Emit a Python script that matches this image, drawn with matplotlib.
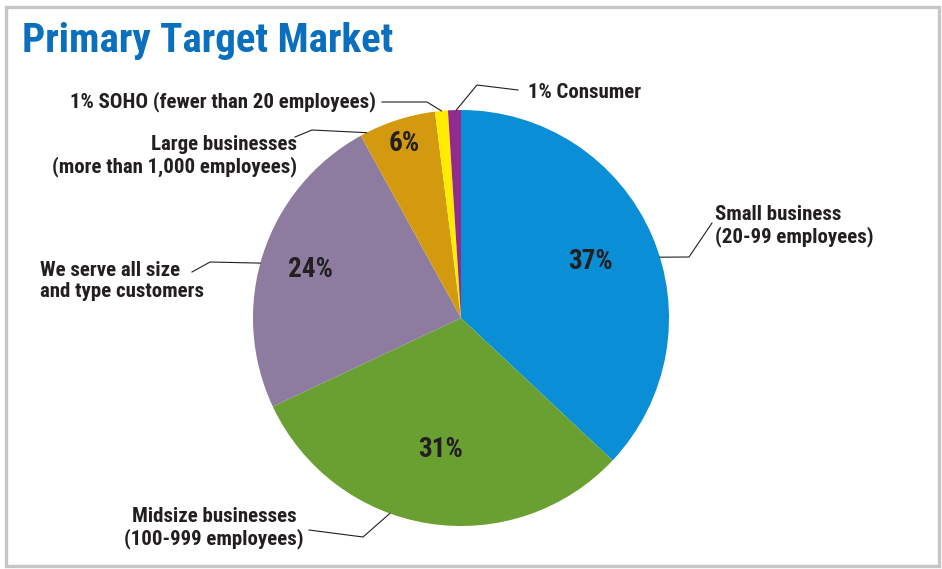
import numpy as np
import matplotlib
matplotlib.use('Agg')
import matplotlib.pyplot as plt
from matplotlib import font_manager
from matplotlib.patches import Rectangle

# survey shares, drawn clockwise from 12 o'clock
segments = ['Small business', 'Midsize businesses', 'All size and type', 'Large businesses', 'SOHO', 'Consumer']
shares = [37, 31, 24, 6, 1, 1]
colors = ['#0A8FD6', '#6A9F31', '#8E7CA0', '#D39A0F', '#FFEC00', '#922B8C']
callout_text = [
    'Small business\n(20-99 employees)',
    'Midsize businesses\n(100-999 employees)',
    'We serve all size\nand type customers',
    'Large businesses\n(more than 1,000 employees)',
    '{}% SOHO (fewer than 20 employees)',
    '{}% Consumer',
]
show_inside = [True, True, True, True, False, False]

W, H = 942, 569
TEXT = '#231F20'


def pick_font():
    for name in ['Roboto Condensed', 'Liberation Sans Narrow', 'Arial Narrow']:
        try:
            font_manager.findfont(font_manager.FontProperties(family=name), fallback_to_default=False)
            return name
        except Exception:
            pass
    return 'DejaVu Sans'


FONT = pick_font()
plt.rcParams['font.family'] = [FONT, 'DejaVu Sans']


def img(x, y):
    # canvas pixels (origin top-left) -> data coords
    return x, H - y


fig = plt.figure(figsize=(W / 100, H / 100), dpi=100)
ax = fig.add_axes([0, 0, 1, 1])

cx, cy = img(461, 318)
R = 208
wedges, _ = ax.pie(shares, colors=colors, startangle=90, counterclock=False,
                   center=(cx, cy), radius=R, frame=True,
                   wedgeprops=dict(linewidth=0))

ax.set_xlim(0, W)
ax.set_ylim(0, H)
ax.set_aspect('equal')
ax.axis('off')

# outer frame
ax.add_patch(Rectangle((6, 3), W - 9, H - 10, fill=False, ec='#C6C6C8', lw=2.4))

ax.text(22, H - 52, 'Primary Target Market', color='#0A6FBD', fontsize=29.5,
        fontweight='bold', va='baseline', ha='left')

# percentage inside the larger wedges
inside_r = [0.68, 0.64, 0.76, 0.88, 0, 0]
for w, v, show, rf in zip(wedges, shares, show_inside, inside_r):
    if not show:
        continue
    mid = np.deg2rad((w.theta1 + w.theta2) / 2)
    ax.text(cx + rf * R * np.cos(mid), cy + rf * R * np.sin(mid), f'{v}%',
            fontsize=19.5, fontweight='bold', color=TEXT, ha='center', va='center')

# leader lines: anchor angle on the rim, elbow, end (canvas pixels), then text spot
leaders = [
    (17, (689, 257), (712, 223), (715, 226), 'left'),
    (250, (363, 537), (309, 530), (214, 528), 'center'),
    (164.7, (210, 262), (192, 272), (40, 281), 'left'),
    (117, (312, 130), (295, 137), (297, 156), 'right'),
    (95.4, (427, 102), (382, 102), (376, 102), 'right'),
    (91.3, (477, 85), (518, 90), (528, 92), 'left'),
]
for (ang, elbow, end, spot, align), txt, v in zip(leaders, callout_text, shares):
    a = np.deg2rad(ang)
    x0, y0 = cx + R * np.cos(a), cy + R * np.sin(a)
    ex, ey = img(*elbow)
    tx, ty = img(*end)
    ax.plot([x0, ex, tx], [y0, ey, ty], color='#231F20', lw=0.8, solid_joinstyle='miter')
    sx, sy = img(*spot)
    ax.text(sx, sy, txt.format(v), fontsize=15, fontweight='bold', color=TEXT,
            ha=align, va='center', multialignment=align, linespacing=1.1)

fig.savefig('out.png', dpi=100)
